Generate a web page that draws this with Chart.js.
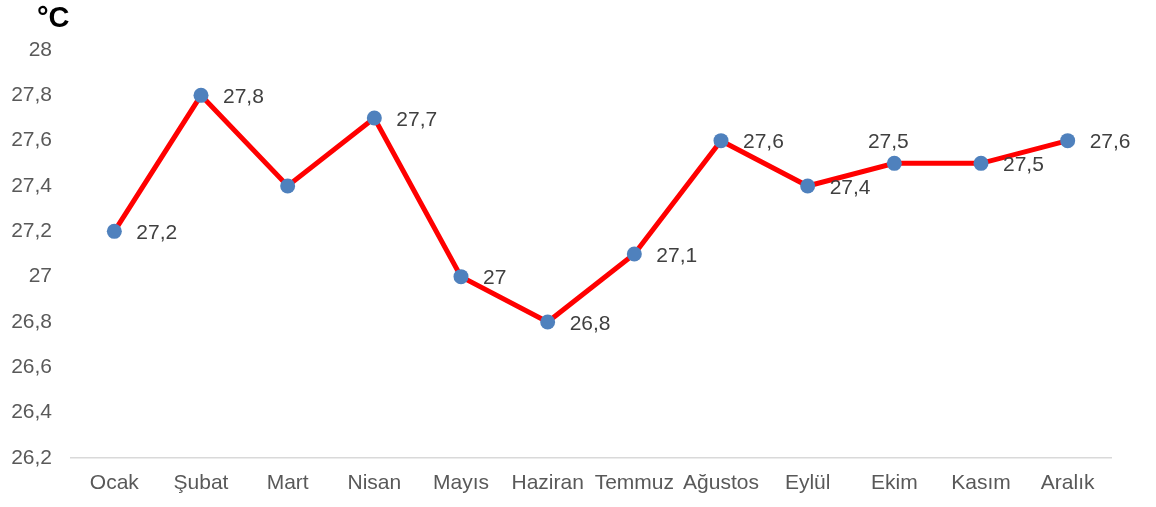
<!DOCTYPE html>
<html>
<head>
<meta charset="utf-8">
<script src="https://cdn.jsdelivr.net/npm/chart.js@4/dist/chart.umd.min.js"></script>
<style>
  html, body { margin: 0; padding: 0; background: #fff; }
  #wrap { position: relative; width: 1156px; height: 507px; }
</style>
</head>
<body>
<div id="wrap"><canvas id="chart"></canvas></div>
<script>
/* chart data */
const months = ['Ocak', 'Şubat', 'Mart', 'Nisan', 'Mayıs', 'Haziran', 'Temmuz', 'Ağustos', 'Eylül', 'Ekim', 'Kasım', 'Aralık'];
const temps  = [27.2, 27.8, 27.4, 27.7, 27.0, 26.8, 27.1, 27.6, 27.4, 27.5, 27.5, 27.6];
const yMin = 26.2;
const yMax = 28;
const yStep = 0.2;
const unitLabel = '°C';

// where each value label goes (null = hidden)
const labelPos = ['right', 'right', null, 'right', 'right', 'right', 'right', 'right', 'right', 'above', 'right', 'right'];

const FONT = "'Liberation Sans', Arial, sans-serif";

function fmt(v) {
  return String(Number(v.toFixed(1))).replace('.', ',');
}

/* ── value labels + unit title ── */
const labelsPlugin = {
  id: 'valueLabels',
  afterDatasetsDraw(chart) {
    const ctx = chart.ctx;
    const meta = chart.getDatasetMeta(0);
    ctx.save();
    ctx.font = '21px ' + FONT;
    ctx.fillStyle = '#404040';
    meta.data.forEach((pt, i) => {
      const pos = labelPos[i];
      if (!pos) return;
      const txt = fmt(temps[i]);
      if (pos === 'above') {
        ctx.textAlign = 'center';
        ctx.textBaseline = 'middle';
        ctx.fillText(txt, pt.x - 6, pt.y - 21);
      } else {
        ctx.textAlign = 'left';
        ctx.textBaseline = 'middle';
        ctx.fillText(txt, pt.x + 22, pt.y + 2);
      }
    });
    ctx.font = 'bold 29px ' + FONT;
    ctx.fillStyle = '#000';
    ctx.textAlign = 'left';
    ctx.textBaseline = 'middle';
    ctx.fillText(unitLabel, 37, 19);
    ctx.restore();
  },
};

new Chart(document.getElementById('chart'), {
  type: 'line',
  data: {
    labels: months,
    datasets: [{
      data: temps,
      borderColor: '#FF0000',
      borderWidth: 5,
      pointRadius: 7.5,
      pointBackgroundColor: '#4F81BD',
      pointBorderWidth: 0,
      tension: 0,
      fill: false,
    }],
  },
  options: {
    responsive: true,
    maintainAspectRatio: false,
    animation: false,
    layout: { padding: { top: 50, right: 45, left: 0, bottom: 0 } },
    plugins: { legend: { display: false }, tooltip: { enabled: false } },
    scales: {
      x: {
        offset: true,
        grid: { display: false, drawTicks: false },
        border: { display: true, color: '#D9D9D9', width: 1.5 },
        ticks: { color: '#595959', font: { size: 21, family: FONT }, padding: 13, maxRotation: 0, autoSkip: false },
        afterFit: s => { s.height = 49; },
      },
      y: {
        min: yMin,
        max: yMax,
        grid: { display: false, drawTicks: false },
        border: { display: false },
        ticks: {
          stepSize: yStep,
          color: '#595959',
          font: { size: 21, family: FONT },
          padding: 19,
          callback: v => fmt(v),
        },
        afterFit: s => { s.width = 71; },
      },
    },
  },
  plugins: [labelsPlugin],
});
</script>
</body>
</html>
